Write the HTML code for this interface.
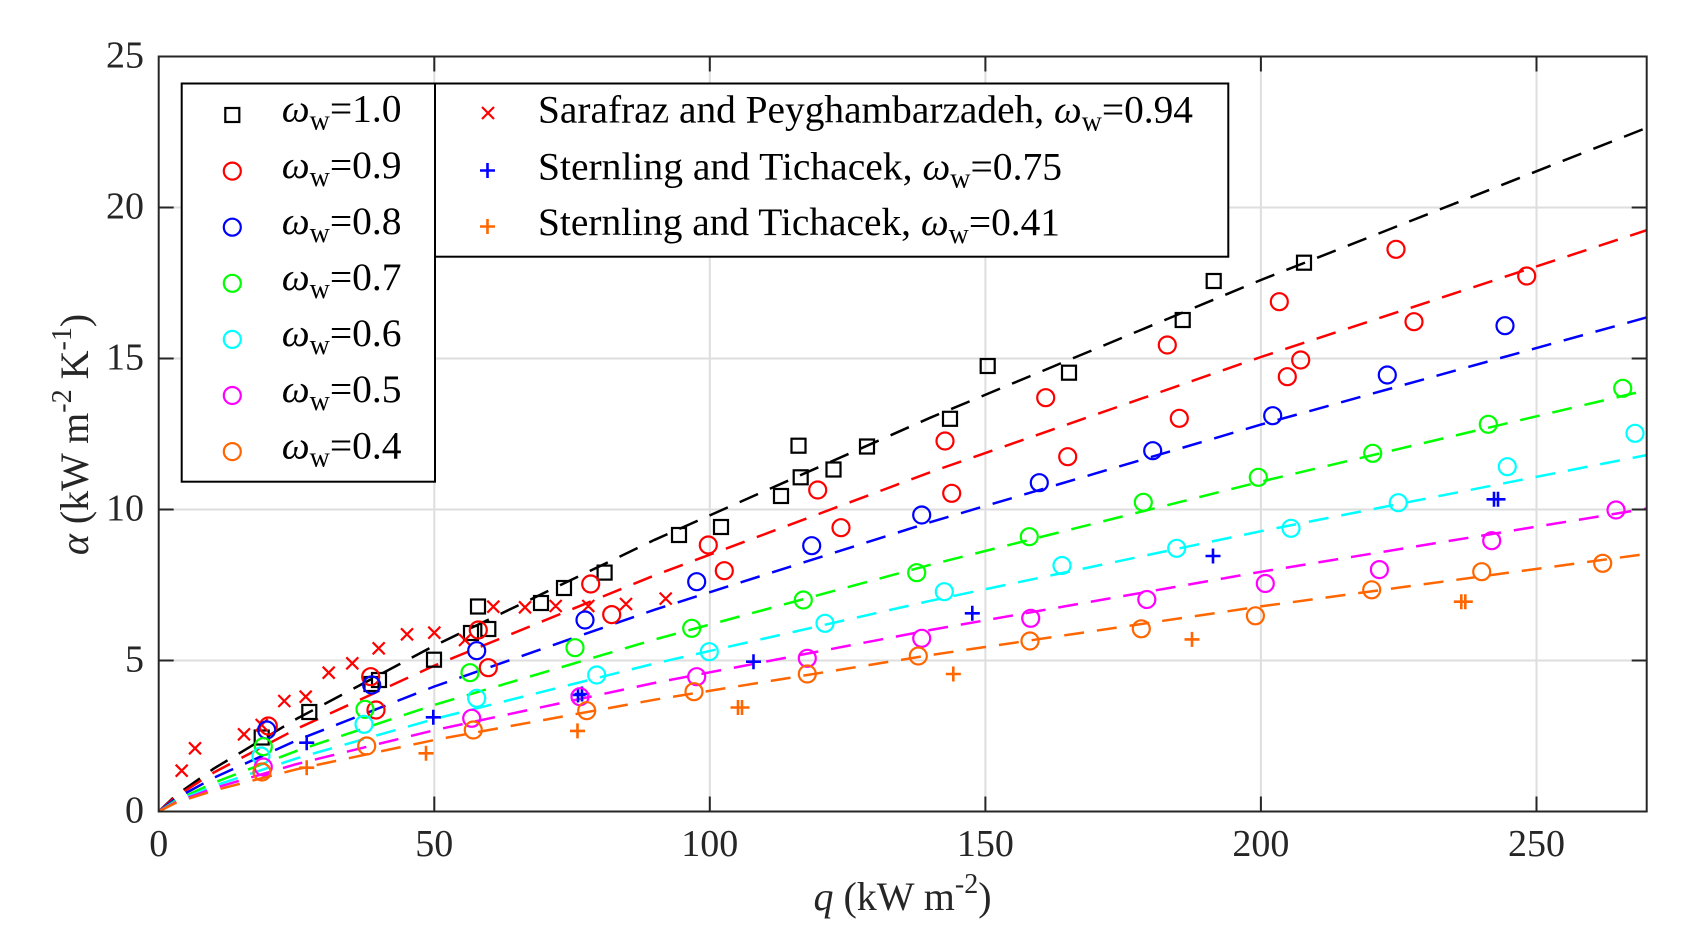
<!DOCTYPE html>
<html><head><meta charset="utf-8"><style>
html,body{margin:0;padding:0;background:#fff;}
body{width:1686px;height:949px;overflow:hidden;}
svg{display:block;font-family:"Liberation Serif",serif;}
</style></head><body>
<svg width="1686" height="949" viewBox="0 0 1686 949" xmlns="http://www.w3.org/2000/svg">
<rect x="0" y="0" width="1686" height="949" fill="#fff"/>
<!-- grid -->
<g stroke="#dedede" stroke-width="2">
<path d="M434.3 56.5V811.5M709.8 56.5V811.5M985.4 56.5V811.5M1260.9 56.5V811.5M1536.5 56.5V811.5"/>
<path d="M158.7 660.5H1646.7M158.7 509.5H1646.7M158.7 358.5H1646.7M158.7 207.5H1646.7"/>
</g>
<!-- fit lines -->
<g fill="none" stroke-width="2.5" stroke-dasharray="20 13">
<path stroke="#000" d="M158.7 811.5L175.2 795.9L213.8 768.6L296.5 718.9L434.3 645.7L654.7 539.8L930.3 417.7L1260.9 280.0L1646.7 127.8"/>
<path stroke="#f00" d="M158.7 811.5L175.2 797.0L213.8 772.5L296.5 728.9L434.3 665.6L654.7 575.3L930.3 472.2L1260.9 357.0L1646.7 230.2"/>
<path stroke="#00f" d="M158.7 811.5L175.2 798.9L213.8 777.8L296.5 740.4L434.3 686.5L654.7 609.7L930.3 522.2L1260.9 424.6L1646.7 317.4"/>
<path stroke="#0f0" d="M158.7 811.5L175.2 800.7L213.8 782.8L296.5 750.9L434.3 704.9L654.7 639.5L930.3 564.8L1260.9 481.6L1646.7 390.2"/>
<path stroke="#0ff" d="M158.7 811.5L175.2 801.8L213.8 786.0L296.5 758.4L434.3 719.0L654.7 663.5L930.3 600.8L1260.9 531.2L1646.7 455.1"/>
<path stroke="#f0f" d="M158.7 811.5L175.2 802.4L213.8 788.3L296.5 764.1L434.3 730.2L654.7 682.9L930.3 630.0L1260.9 571.8L1646.7 508.6"/>
<path stroke="#f60" d="M158.7 811.5L175.2 803.1L213.8 790.5L296.5 769.3L434.3 740.0L654.7 699.7L930.3 655.1L1260.9 606.4L1646.7 553.9"/>
</g>
<!-- markers -->
<g fill="none" stroke-width="2.2">
<g stroke="#000">
<rect x="254.7" y="730.5" width="14" height="14"/><rect x="302.3" y="705" width="14" height="14"/><rect x="364.5" y="677" width="14" height="14"/><rect x="372" y="673" width="14" height="14"/><rect x="427" y="652.7" width="14" height="14"/><rect x="464" y="626" width="14" height="14"/><rect x="471" y="599.5" width="14" height="14"/><rect x="481.3" y="622" width="14" height="14"/><rect x="534" y="596" width="14" height="14"/><rect x="557" y="581" width="14" height="14"/><rect x="597.6" y="565.6" width="14" height="14"/><rect x="672" y="528" width="14" height="14"/><rect x="714" y="520" width="14" height="14"/><rect x="774" y="489" width="14" height="14"/><rect x="793.7" y="470.3" width="14" height="14"/><rect x="791.5" y="438.7" width="14" height="14"/><rect x="826.5" y="462.5" width="14" height="14"/><rect x="860" y="439.5" width="14" height="14"/><rect x="943" y="411.8" width="14" height="14"/><rect x="980.7" y="359" width="14" height="14"/><rect x="1062" y="365.7" width="14" height="14"/><rect x="1175.7" y="313" width="14" height="14"/><rect x="1206.7" y="274" width="14" height="14"/><rect x="1297" y="255.7" width="14" height="14"/>
</g>
<g stroke="#f00">
<circle cx="268.3" cy="726" r="8.5"/><circle cx="370.7" cy="676.7" r="8.5"/><circle cx="376" cy="710" r="8.5"/><circle cx="478.3" cy="630" r="8.5"/><circle cx="488.3" cy="667.7" r="8.5"/><circle cx="590.7" cy="584" r="8.5"/><circle cx="611.7" cy="614.6" r="8.5"/><circle cx="708.3" cy="545" r="8.5"/><circle cx="724.3" cy="570.7" r="8.5"/><circle cx="817.7" cy="490" r="8.5"/><circle cx="841" cy="527.7" r="8.5"/><circle cx="945" cy="441" r="8.5"/><circle cx="951.7" cy="493.3" r="8.5"/><circle cx="1045.7" cy="397.7" r="8.5"/><circle cx="1067.7" cy="456.7" r="8.5"/><circle cx="1167.3" cy="345" r="8.5"/><circle cx="1179.3" cy="418.3" r="8.5"/><circle cx="1279.3" cy="301.7" r="8.5"/><circle cx="1287.3" cy="376.7" r="8.5"/><circle cx="1300.7" cy="360" r="8.5"/><circle cx="1396" cy="249.3" r="8.5"/><circle cx="1414" cy="321.7" r="8.5"/><circle cx="1526.7" cy="276" r="8.5"/>
<path d="M175.7 764.7l12 12m0-12l-12 12M189 742.3l12 12m0-12l-12 12M238 728.3l12 12m0-12l-12 12M255.7 719l12 12m0-12l-12 12M278.3 695l12 12m0-12l-12 12M299.7 690.7l12 12m0-12l-12 12M322.7 666.7l12 12m0-12l-12 12M346.3 657.3l12 12m0-12l-12 12M372.7 642.3l12 12m0-12l-12 12M401 628.3l12 12m0-12l-12 12M428.3 626.7l12 12m0-12l-12 12M459 634l12 12m0-12l-12 12M487.3 600.7l12 12m0-12l-12 12M519 601.3l12 12m0-12l-12 12M549.7 600l12 12m0-12l-12 12M582.3 600l12 12m0-12l-12 12M620 598l12 12m0-12l-12 12M659.7 592.6l12 12m0-12l-12 12"/>
</g>
<g stroke="#00f">
<circle cx="266.7" cy="730" r="8.5"/><circle cx="371.7" cy="685" r="8.5"/><circle cx="476.7" cy="650.7" r="8.5"/><circle cx="585" cy="620" r="8.5"/><circle cx="696.7" cy="581.7" r="8.5"/><circle cx="811.7" cy="545.7" r="8.5"/><circle cx="921.7" cy="515" r="8.5"/><circle cx="1039.3" cy="482.7" r="8.5"/><circle cx="1152.7" cy="450.7" r="8.5"/><circle cx="1272.7" cy="415.7" r="8.5"/><circle cx="1387.3" cy="375" r="8.5"/><circle cx="1505" cy="325.7" r="8.5"/>
<path stroke-width="2.6" d="M299.2 742.7h15M306.7 735.2v15M425.8 717.3h15M433.3 709.8v15M570.5 695h15M578 687.5v15M574.5 694h15M582 686.5v15M746 661.7h15M753.5 654.2v15M964.8 613.3h15M972.3 605.8v15M1205.5 556h15M1213 548.5v15M1486.5 499.3h15M1494 491.8v15M1490.5 499.3h15M1498 491.8v15"/>
</g>
<g stroke="#0f0">
<circle cx="263.3" cy="746.7" r="8.5"/><circle cx="365" cy="709.3" r="8.5"/><circle cx="470" cy="672.7" r="8.5"/><circle cx="575" cy="647.7" r="8.5"/><circle cx="691.7" cy="628.3" r="8.5"/><circle cx="803.3" cy="600" r="8.5"/><circle cx="916.7" cy="572.7" r="8.5"/><circle cx="1029.3" cy="536.7" r="8.5"/><circle cx="1143.3" cy="502.3" r="8.5"/><circle cx="1258.3" cy="477.3" r="8.5"/><circle cx="1372.7" cy="453.3" r="8.5"/><circle cx="1488.3" cy="424.3" r="8.5"/><circle cx="1622.7" cy="388.3" r="8.5"/>
</g>
<g stroke="#0ff">
<circle cx="261" cy="756" r="8.5"/><circle cx="364" cy="724.3" r="8.5"/><circle cx="476.7" cy="698.3" r="8.5"/><circle cx="596.7" cy="675" r="8.5"/><circle cx="709.3" cy="651.7" r="8.5"/><circle cx="825" cy="623.3" r="8.5"/><circle cx="944.3" cy="591.7" r="8.5"/><circle cx="1062" cy="565.5" r="8.5"/><circle cx="1176.7" cy="548.3" r="8.5"/><circle cx="1291" cy="528.3" r="8.5"/><circle cx="1398.3" cy="502.7" r="8.5"/><circle cx="1507.3" cy="466.7" r="8.5"/><circle cx="1635" cy="433.3" r="8.5"/>
</g>
<g stroke="#f0f">
<circle cx="263.3" cy="767" r="8.5"/><circle cx="471.7" cy="718.3" r="8.5"/><circle cx="580" cy="696.7" r="8.5"/><circle cx="696.7" cy="676.7" r="8.5"/><circle cx="807.3" cy="658.3" r="8.5"/><circle cx="921.7" cy="638.3" r="8.5"/><circle cx="1030.7" cy="618.3" r="8.5"/><circle cx="1146.8" cy="599.5" r="8.5"/><circle cx="1265.3" cy="583.5" r="8.5"/><circle cx="1379.4" cy="569.6" r="8.5"/><circle cx="1491.7" cy="540.7" r="8.5"/><circle cx="1616" cy="510" r="8.5"/>
</g>
<g stroke="#f60">
<circle cx="262" cy="772" r="8.5"/><circle cx="366.7" cy="746" r="8.5"/><circle cx="473.3" cy="730" r="8.5"/><circle cx="586.7" cy="710.7" r="8.5"/><circle cx="694" cy="691.7" r="8.5"/><circle cx="807.3" cy="674" r="8.5"/><circle cx="918.3" cy="656" r="8.5"/><circle cx="1030" cy="641" r="8.5"/><circle cx="1141.3" cy="628.8" r="8.5"/><circle cx="1255.4" cy="615.8" r="8.5"/><circle cx="1371.7" cy="589.8" r="8.5"/><circle cx="1481.7" cy="571.7" r="8.5"/><circle cx="1602.7" cy="563.3" r="8.5"/>
<path stroke-width="2.6" d="M299.2 767.7h15M306.7 760.2v15M418.5 753.3h15M426 745.8v15M570 730.9h15M577.5 723.4v15M730.5 707.5h15M738 700v15M734.5 707.5h15M742 700v15M945.8 674h15M953.3 666.5v15M1184.5 639.4h15M1192 631.9v15M1453.8 601.7h15M1461.3 594.2v15M1457.8 601.7h15M1465.3 594.2v15"/>
</g>
</g>
<!-- axes box and ticks -->
<g stroke="#262626" stroke-width="2" fill="none">
<rect x="158.7" y="56.5" width="1488" height="755"/>
<path d="M158.7 660.5h15M158.7 509.5h15M158.7 358.5h15M158.7 207.5h15M1646.7 660.5h-15M1646.7 509.5h-15M1646.7 358.5h-15M1646.7 207.5h-15"/>
<path d="M434.3 811.5v-15M709.8 811.5v-15M985.4 811.5v-15M1260.9 811.5v-15M1536.5 811.5v-15M434.3 56.5v15M709.8 56.5v15M985.4 56.5v15M1260.9 56.5v15M1536.5 56.5v15"/>
</g>
<!-- tick labels -->
<g fill="#262626" font-size="38">
<g text-anchor="end">
<text x="144" y="822.5">0</text>
<text x="144" y="671.5">5</text>
<text x="144" y="520.5">10</text>
<text x="144" y="369.5">15</text>
<text x="144" y="218.5">20</text>
<text x="144" y="67.5">25</text>
</g>
<g text-anchor="middle">
<text x="158.7" y="856">0</text>
<text x="434.3" y="856">50</text>
<text x="709.8" y="856">100</text>
<text x="985.4" y="856">150</text>
<text x="1260.9" y="856">200</text>
<text x="1536.5" y="856">250</text>
</g>
</g>
<!-- axis labels -->
<text x="902.5" y="910" font-size="40" fill="#262626" text-anchor="middle"><tspan font-style="italic">q</tspan> (kW m<tspan font-size="28" dy="-17">-2</tspan><tspan dy="17">)</tspan></text>
<text transform="translate(88,434.5) rotate(-90)" x="0" y="0" font-size="40" fill="#262626" text-anchor="middle"><tspan font-style="italic">α</tspan> (kW m<tspan font-size="28" dy="-17">-2</tspan><tspan dy="17"> K</tspan><tspan font-size="28" dy="-17">-1</tspan><tspan dy="17">)</tspan></text>
<!-- legend 1 -->
<rect x="181.7" y="83.5" width="253.3" height="398.2" fill="#fff" stroke="#000" stroke-width="2"/>
<g fill="none" stroke-width="2.2">
<rect x="225.3" y="108" width="14" height="14" stroke="#000"/>
<circle cx="232.3" cy="171.1" r="8.5" stroke="#f00"/>
<circle cx="232.3" cy="227.2" r="8.5" stroke="#00f"/>
<circle cx="232.3" cy="283.3" r="8.5" stroke="#0f0"/>
<circle cx="232.3" cy="339.4" r="8.5" stroke="#0ff"/>
<circle cx="232.3" cy="395.5" r="8.5" stroke="#f0f"/>
<circle cx="232.3" cy="451.6" r="8.5" stroke="#f60"/>
</g>
<g font-size="39.5" fill="#000">
<text x="281.7" y="121.7"><tspan font-style="italic">ω</tspan><tspan font-size="28" dy="8">w</tspan><tspan dy="-8">=1.0</tspan></text>
<text x="281.7" y="177.8"><tspan font-style="italic">ω</tspan><tspan font-size="28" dy="8">w</tspan><tspan dy="-8">=0.9</tspan></text>
<text x="281.7" y="233.9"><tspan font-style="italic">ω</tspan><tspan font-size="28" dy="8">w</tspan><tspan dy="-8">=0.8</tspan></text>
<text x="281.7" y="290"><tspan font-style="italic">ω</tspan><tspan font-size="28" dy="8">w</tspan><tspan dy="-8">=0.7</tspan></text>
<text x="281.7" y="346.1"><tspan font-style="italic">ω</tspan><tspan font-size="28" dy="8">w</tspan><tspan dy="-8">=0.6</tspan></text>
<text x="281.7" y="402.2"><tspan font-style="italic">ω</tspan><tspan font-size="28" dy="8">w</tspan><tspan dy="-8">=0.5</tspan></text>
<text x="281.7" y="458.3"><tspan font-style="italic">ω</tspan><tspan font-size="28" dy="8">w</tspan><tspan dy="-8">=0.4</tspan></text>
</g>
<!-- legend 2 -->
<rect x="435" y="83.5" width="793.3" height="173.2" fill="#fff" stroke="#000" stroke-width="2"/>
<g fill="none" stroke-width="2.2">
<path stroke="#f00" d="M482 107l12 12m0-12l-12 12"/>
<path stroke="#00f" stroke-width="2.6" d="M480 170.5h15M487.5 163v15"/>
<path stroke="#f60" stroke-width="2.6" d="M480 226.5h15M487.5 219v15"/>
</g>
<g font-size="39.5" fill="#000">
<text x="538" y="122.3" textLength="655" lengthAdjust="spacingAndGlyphs">Sarafraz and Peyghambarzadeh, <tspan font-style="italic">ω</tspan><tspan font-size="28" dy="8">w</tspan><tspan dy="-8">=0.94</tspan></text>
<text x="538" y="179.3" textLength="524" lengthAdjust="spacingAndGlyphs">Sternling and Tichacek, <tspan font-style="italic">ω</tspan><tspan font-size="28" dy="8">w</tspan><tspan dy="-8">=0.75</tspan></text>
<text x="538" y="235" textLength="522" lengthAdjust="spacingAndGlyphs">Sternling and Tichacek, <tspan font-style="italic">ω</tspan><tspan font-size="28" dy="8">w</tspan><tspan dy="-8">=0.41</tspan></text>
</g>
</svg>
</body></html>
